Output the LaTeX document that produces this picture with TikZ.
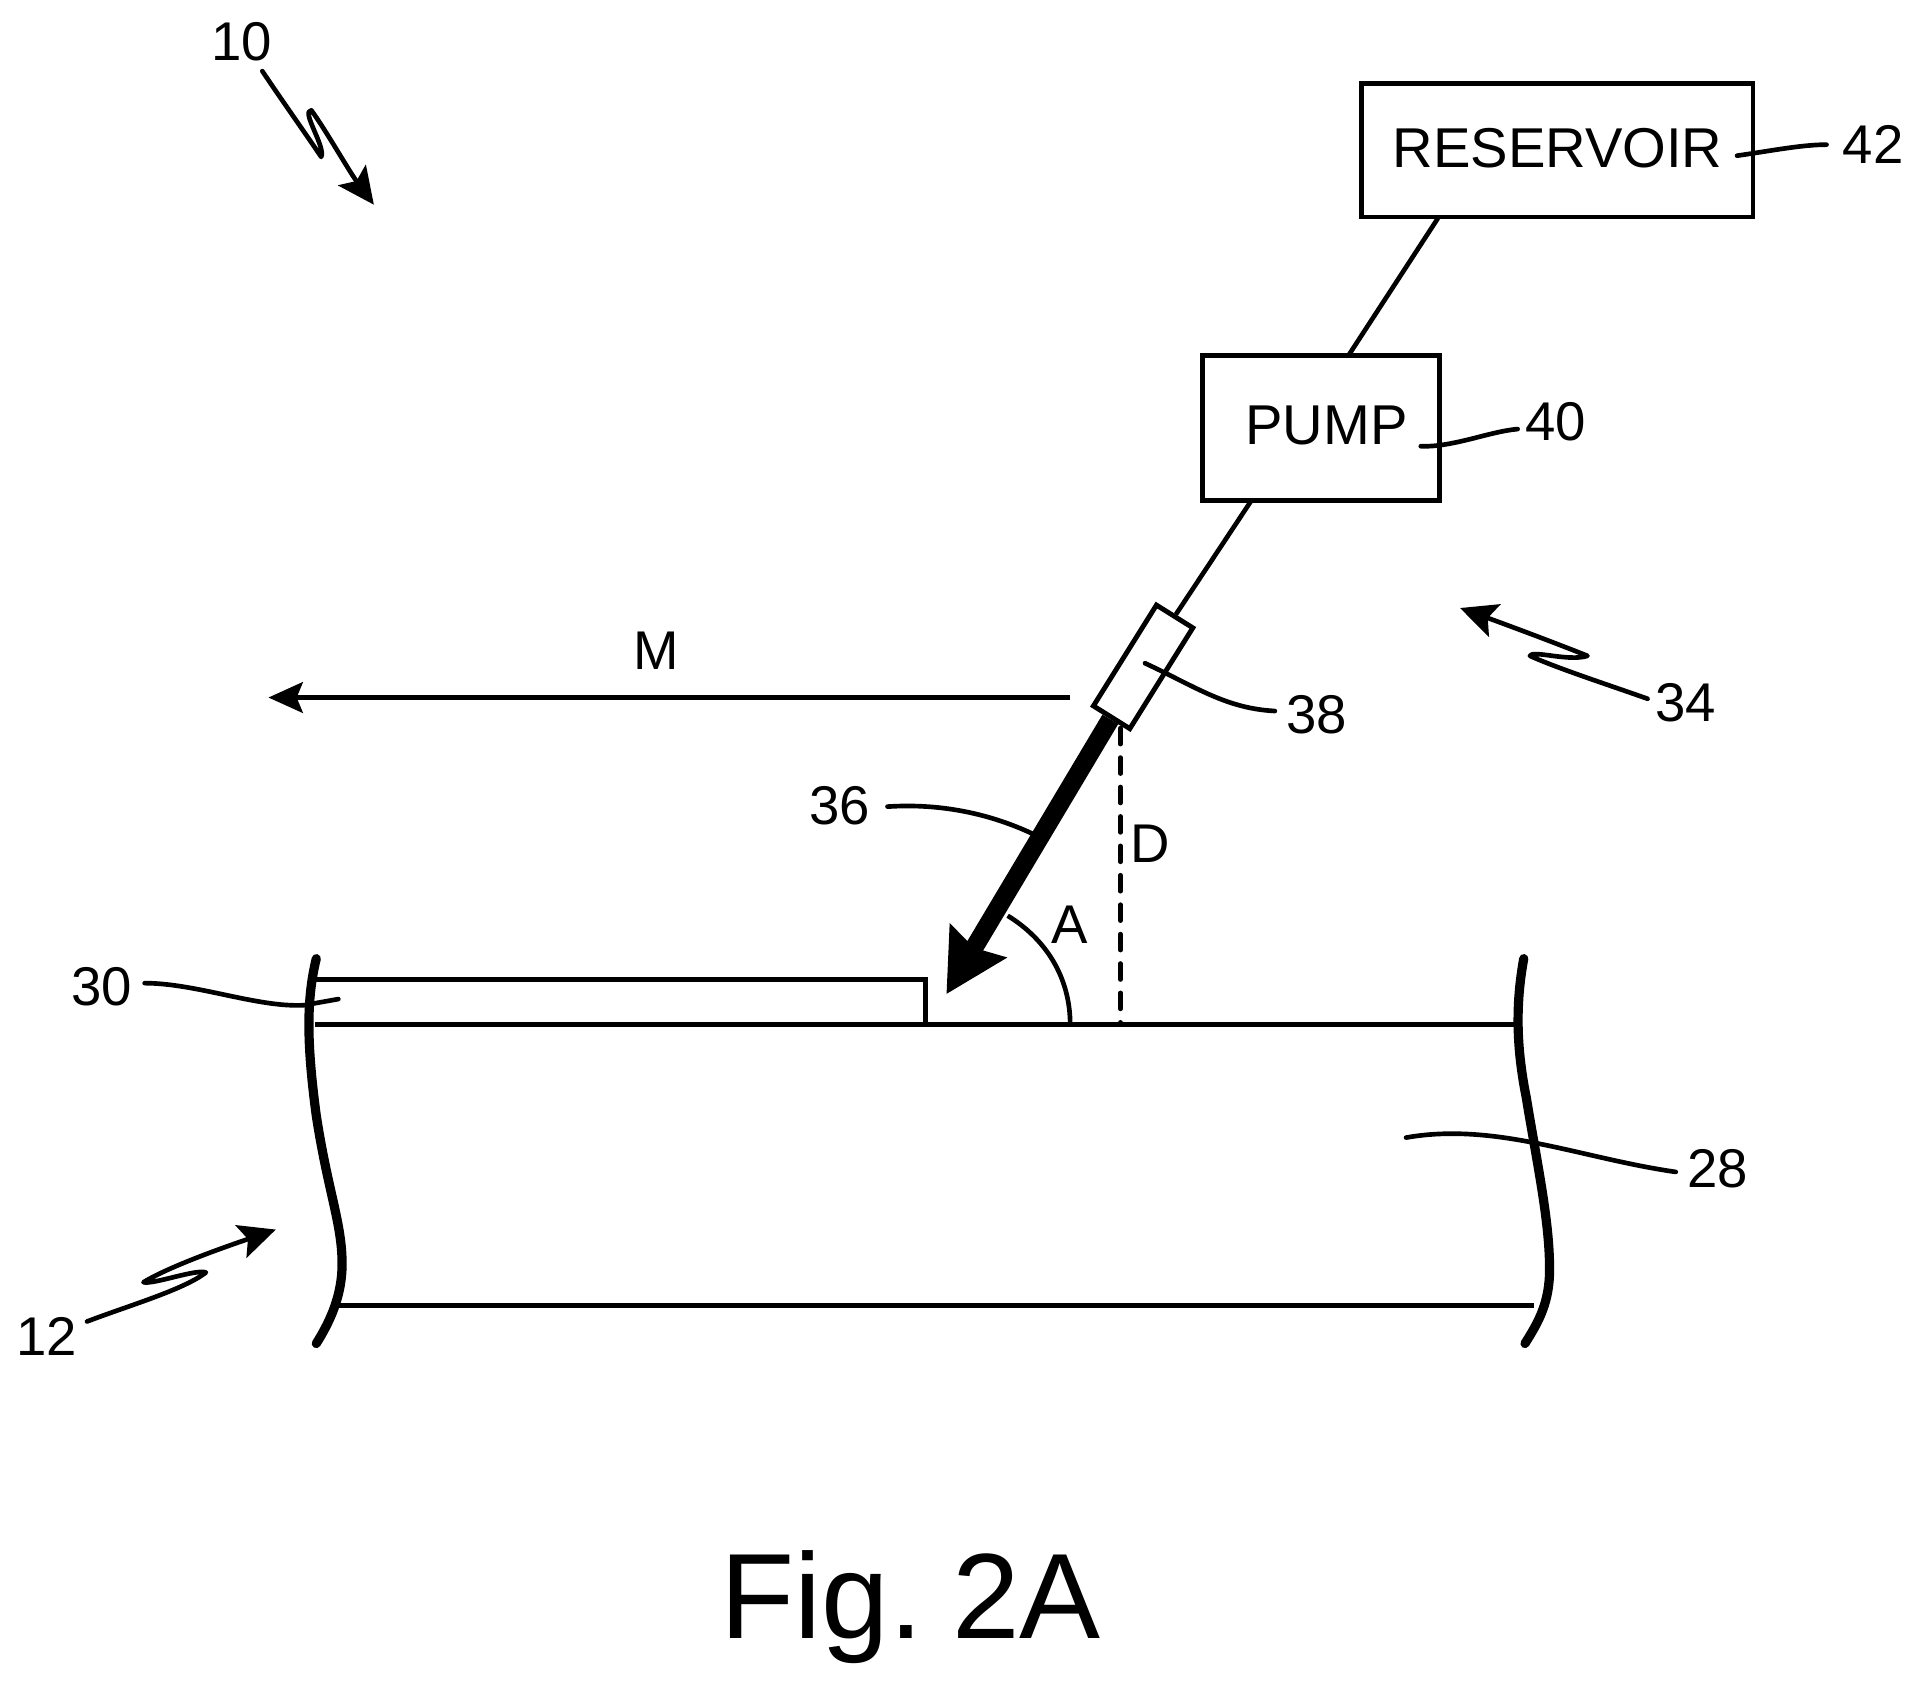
\documentclass[tikz,border=0pt]{standalone}
\usepackage{fontspec}
\setmainfont{Liberation Sans}
\usetikzlibrary{arrows.meta}
\tikzset{
  lab/.style={inner sep=0pt,font=\fontsize{44.5}{45}\selectfont},
  box/.style={draw,line width=4pt,inner sep=0pt,font=\fontsize{45.8}{46}\selectfont,fill=white},
  thin line/.style={line width=3.8pt,line join=miter},
  lead/.style={line width=3.8pt,line cap=round},
  brk/.style={line width=7.5pt,line cap=round},
  zig/.style={line width=3.8pt,line cap=round,line join=round,-{Stealth[length=30pt,width=28pt,inset=6pt]}}
}
\begin{document}
\begin{tikzpicture}[x=1pt,y=-1pt]
\useasboundingbox (0,0) rectangle (1568.7,1377);
% boxes
\node[box,minimum width=319pt,minimum height=109pt] (res) at (1270.5,122.5) {\raisebox{3.5pt}{RESERVOIR}};
\node[box,minimum width=193pt,minimum height=118pt] (pump) at (1077.5,349) {\hspace{9pt}\raisebox{4.5pt}{PUMP}};
\node[draw,line width=4pt,fill=white,minimum width=97pt,minimum height=35pt,inner sep=0pt,rotate=58] (noz) at (932.5,544) {};
% coordinates
\coordinate (r1) at (1173,178);
\coordinate (p1) at (1100,290);
\coordinate (p2) at (1021,408);
\coordinate (base1) at (257,835.8);
\coordinate (base2) at (1240,835.8);
\coordinate (bot1) at (275,1064.8);
\coordinate (bot2) at (1251,1064.8);
\coordinate (ct1) at (257,799);
\coordinate (ct2) at (755,799);
\coordinate (ct3) at (755,835.8);
\coordinate (tip) at (772,811);
\coordinate (mstart) at (873,569);
\coordinate (mend) at (219,569);
\coordinate (dtop) at (914,594);
\coordinate (dbot) at (914,835.8);
\coordinate (a1) at (873,835.8);
\coordinate (a2) at (822,747);
% connectors
\draw[thin line] (r1) -- (p1);
\draw[thin line] (p2) -- (noz.east);
\draw[line width=15pt,-{Stealth[length=50pt,width=52pt,inset=6pt]}] (noz.west) -- (tip);
\draw[line width=3.8pt,line cap=round,dash pattern=on 13pt off 11pt] (dtop) -- (dbot);
\draw[line width=3.8pt,-{Stealth[length=28pt,width=25pt,inset=5pt]}] (mstart) -- (mend);
\draw[thin line] (base1) -- (base2);
\draw[thin line] (bot1) -- (bot2);
\draw[thin line] (ct1) -- (ct2) -- (ct3);
\draw[thin line] (a1) .. controls (873,797) and (853,766) .. (a2);
% break lines
\draw[brk] (258,782) .. controls (250,815) and (250,850) .. (258,910) .. controls (268,975) and (280,1000) .. (279,1035) .. controls (278,1060) and (268,1080) .. (258,1096);
\draw[brk] (1243,782) .. controls (1237,815) and (1236,850) .. (1245,895) .. controls (1254,950) and (1265,1000) .. (1264,1040) .. controls (1263,1065) and (1254,1080) .. (1244,1096);
% labels
\node[lab] (n10) at (197,34) {10};
\node[lab] (n42) at (1528,118) {42};
\node[lab] (n40) at (1269,344) {40};
\node[lab] (n38) at (1074,583) {38};
\node[lab] (n34) at (1375,573) {34};
\node[lab] (n36) at (685,657) {36};
\node[lab] (n30) at (83,805) {30};
\node[lab] (n28) at (1401,953) {28};
\node[lab] (n12) at (38,1090) {12};
\node[lab] (nD) at (938,688) {D};
\node[lab] (nA) at (873,754) {A};
\node[lab] (nM) at (535,531) {M};
\node[inner sep=0pt,font=\fontsize{99}{99}\selectfont] (fig) at (743,1311) {Fig.\hspace{24pt}2A};
% leaders
\draw[lead] (1417,127) .. controls (1445,123) and (1470,118) .. (1490,118);
\draw[lead] (1159,364) .. controls (1185,365) and (1215,352) .. (1238,350);
\draw[lead] (934,541) .. controls (975,560) and (1000,578) .. (1040,580);
\draw[lead] (724,658) .. controls (770,655) and (810,665) .. (842,680);
\draw[lead] (118,802) .. controls (160,802) and (210,822) .. (248,820) -- (276,815);
\draw[lead] (1147,928) .. controls (1220,915) and (1290,945) .. (1367,956);
% zigzag arrows
\draw[zig] (1344,570) .. controls (1310,558) and (1270,545) .. (1248,535) .. controls (1250,530) and (1280,540) .. (1295,535) .. controls (1270,525) and (1230,510) .. (1191,496);
\draw[zig] (214,58) .. controls (230,82) and (250,110) .. (262,128) .. controls (266,120) and (245,90) .. (254,90) .. controls (265,105) and (285,140) .. (305,167);
\draw[zig] (71,1078) .. controls (105,1065) and (150,1052) .. (168,1038) .. controls (160,1035) and (125,1048) .. (117,1046) .. controls (140,1032) and (190,1015) .. (225,1003);
\end{tikzpicture}
\end{document}
